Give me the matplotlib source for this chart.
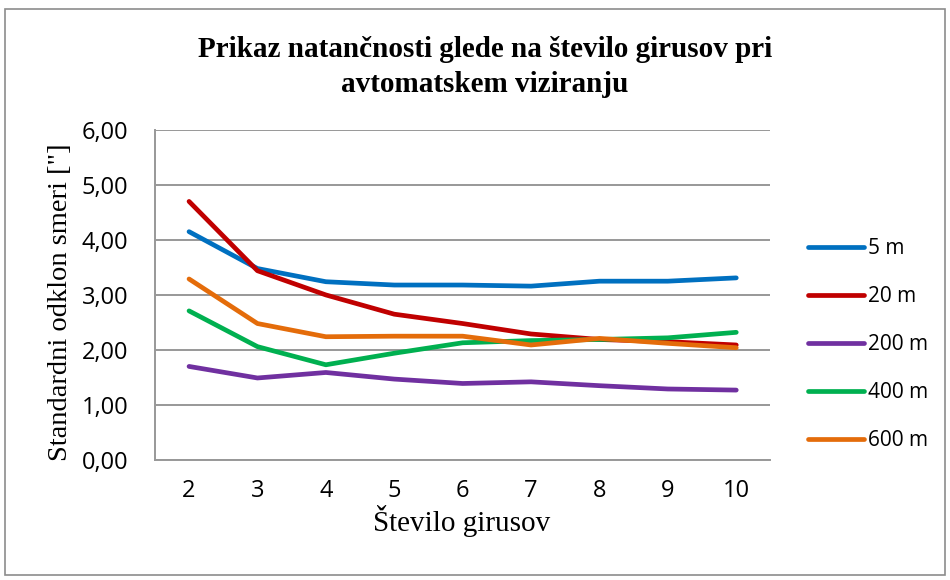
import matplotlib.pyplot as plt
from matplotlib.patches import Rectangle

girusi = [2, 3, 4, 5, 6, 7, 8, 9, 10]
labels = ['5 m', '20 m', '200 m', '400 m', '600 m']
s_5m = [4.15, 3.48, 3.24, 3.18, 3.18, 3.16, 3.25, 3.25, 3.31]
s_20m = [4.70, 3.44, 3.00, 2.65, 2.48, 2.29, 2.19, 2.15, 2.09]
s_200m = [1.70, 1.49, 1.59, 1.47, 1.39, 1.42, 1.35, 1.29, 1.27]
s_400m = [2.71, 2.06, 1.73, 1.94, 2.13, 2.17, 2.19, 2.22, 2.32]
s_600m = [3.29, 2.48, 2.24, 2.25, 2.25, 2.09, 2.21, 2.12, 2.04]
colors = ['#0070C0', '#C00000', '#7030A0', '#00B050', '#E46C0A']

serif = 'Liberation Serif'
sans = ['Open Sans', 'DejaVu Sans']

fig = plt.figure(figsize=(9.5, 5.8), dpi=100)
fig.patches.append(Rectangle((0.005, 0.008), 0.99, 0.976, transform=fig.transFigure,
                             fill=False, edgecolor='#8c8c8c', linewidth=1.2))

ax = fig.add_axes([0.163, 0.207, 0.648, 0.569])
for vals, lab, c in zip([s_5m, s_20m, s_200m, s_400m, s_600m], labels, colors):
    ax.plot(girusi, vals, color=c, linewidth=3.4, label=lab, solid_capstyle='round')

ax.set_xlim(1.5, 10.5)
ax.set_ylim(0, 6)
ax.set_yticks([0, 1, 2, 3, 4, 5, 6])
ax.set_yticklabels([f'{v:.2f}'.replace('.', ',') for v in range(7)], fontfamily=sans, fontsize=17)
ax.set_xticks(girusi)
ax.set_xticklabels([str(g) for g in girusi], fontfamily=sans, fontsize=17)
ax.tick_params(length=0)
ax.tick_params(axis='y', pad=19)
ax.tick_params(axis='x', pad=14)
ax.grid(axis='y', color='#989898', linewidth=1.4)
ax.set_axisbelow(True)
for side in ['top', 'right']:
    ax.spines[side].set_visible(False)
for side in ['left', 'bottom']:
    ax.spines[side].set_color('#989898')
    ax.spines[side].set_linewidth(1.4)

fig.text(0.5105, 0.9017, 'Prikaz natančnosti glede na število girusov pri',
         ha='center', va='baseline', fontfamily=serif, fontweight='bold', fontsize=21)
fig.text(0.5105, 0.8414, 'avtomatskem viziranju',
         ha='center', va='baseline', fontfamily=serif, fontweight='bold', fontsize=21)
fig.text(0.064, 0.479, 'Standardni odklon smeri ["]', rotation=90, ha='center', va='center',
         fontfamily=serif, fontsize=20.5)
fig.text(0.486, 1 - 531 / 580, 'Število girusov', ha='center', va='baseline',
         fontfamily=serif, fontsize=21)

fig.legend(loc='center left', bbox_to_anchor=(0.8505, 0.406), frameon=False, borderpad=0,
           borderaxespad=0, handlelength=2.7, handletextpad=0.2, labelspacing=1.3,
           prop={'family': sans, 'size': 15})

fig.savefig('out.png', dpi=100)
